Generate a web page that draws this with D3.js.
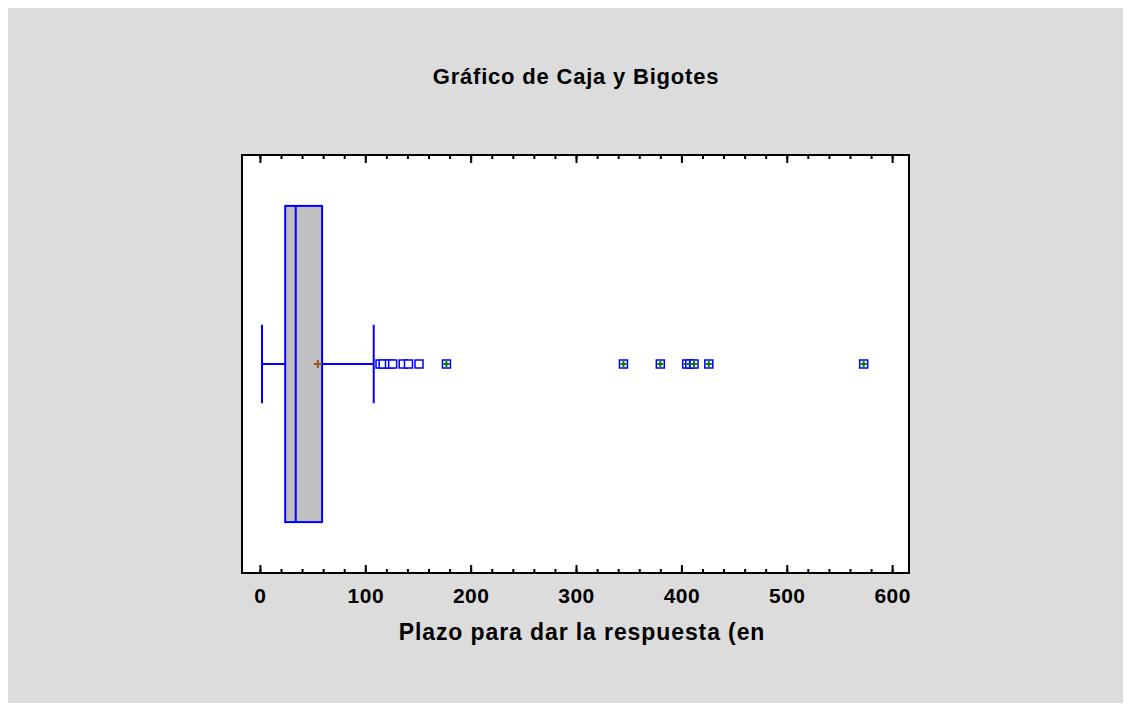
<!DOCTYPE html>
<html>
<head>
<meta charset="utf-8">
<script src="https://cdn.jsdelivr.net/npm/d3@7"></script>
<style>
  body { margin: 0; background: #ffffff; }
  text { font-family: "Liberation Sans", Arial, sans-serif; font-weight: bold; fill: #000; }
</style>
</head>
<body>
<div id="chart"></div>
<script>
// chart data
const title = "Gráfico de Caja y Bigotes";
const axisLabel = "Plazo para dar la respuesta (en";
const boxStats = [2, 24, 34, 59, 108]; // lower whisker, Q1, median, Q3, upper whisker
const meanValue = [55];
const outliers = [114, 117, 123, 126, 136, 141, 151];
const farOutliers = [177, 345, 380, 405, 408, 412, 426, 573];
const xTicks = [0, 100, 200, 300, 400, 500, 600];
const xMinorTicks = d3.range(0, 601, 20);

const W = 1131, H = 711;
const plot = { left: 242, right: 909, top: 155, bottom: 573 };

const svg = d3.select("#chart")
  .append("svg")
  .attr("width", W)
  .attr("height", H);

// grey panel
svg.append("rect")
  .attr("x", 8).attr("y", 8)
  .attr("width", W - 16).attr("height", H - 16)
  .attr("fill", "#dcdcdc");

// plot area
svg.append("rect")
  .attr("x", plot.left).attr("y", plot.top)
  .attr("width", plot.right - plot.left).attr("height", plot.bottom - plot.top)
  .attr("fill", "#ffffff");

const x = d3.scaleLinear()
  .domain([-17, 616])
  .range([plot.left, plot.right]);

const y = d3.scaleBand()
  .domain([axisLabel])
  .range([plot.top, plot.bottom])
  .paddingInner(0).paddingOuter(0.161);

const yc = y(axisLabel) + y.bandwidth() / 2;
const boxH = y.bandwidth();
const capHalf = boxH * 0.124;

// axes: major ticks with labels
const bottomAxis = svg.append("g")
  .attr("transform", `translate(0,${plot.bottom})`)
  .call(d3.axisBottom(x).tickValues(xTicks).tickSizeInner(-8).tickSizeOuter(0).tickPadding(15));
bottomAxis.selectAll("text")
  .attr("font-size", 21)
  .style("font-family", "'Liberation Sans', Arial, sans-serif")
  .style("font-weight", "bold")
  .style("letter-spacing", "0.5px");

svg.append("g")
  .attr("transform", `translate(0,${plot.bottom})`)
  .call(d3.axisBottom(x).tickValues(xMinorTicks).tickSizeInner(-4).tickSizeOuter(0).tickFormat(""));

svg.append("g")
  .attr("transform", `translate(0,${plot.top})`)
  .call(d3.axisTop(x).tickValues(xTicks).tickSizeInner(-8).tickSizeOuter(0).tickFormat(""));

svg.append("g")
  .attr("transform", `translate(0,${plot.top})`)
  .call(d3.axisTop(x).tickValues(xMinorTicks).tickSizeInner(-4).tickSizeOuter(0).tickFormat(""));

svg.selectAll(".domain").remove();
svg.selectAll(".tick line").attr("stroke", "#000").attr("stroke-width", 2);

// frame
svg.append("rect")
  .attr("x", plot.left).attr("y", plot.top)
  .attr("width", plot.right - plot.left).attr("height", plot.bottom - plot.top)
  .attr("fill", "none")
  .attr("stroke", "#000")
  .attr("stroke-width", 2);

const blue = "#0000ff";
const g = svg.append("g");

// whiskers
g.append("line")
  .attr("x1", x(boxStats[0])).attr("x2", x(boxStats[1]))
  .attr("y1", yc).attr("y2", yc)
  .attr("stroke", blue).attr("stroke-width", 2);
g.append("line")
  .attr("x1", x(boxStats[3])).attr("x2", x(boxStats[4]))
  .attr("y1", yc).attr("y2", yc)
  .attr("stroke", blue).attr("stroke-width", 2);
g.selectAll(".cap")
  .data([boxStats[0], boxStats[4]])
  .enter().append("line")
  .attr("class", "cap")
  .attr("x1", d => x(d)).attr("x2", d => x(d))
  .attr("y1", yc - capHalf).attr("y2", yc + capHalf)
  .attr("stroke", blue).attr("stroke-width", 2);

// box
g.append("rect")
  .attr("x", x(boxStats[1])).attr("y", y(axisLabel))
  .attr("width", x(boxStats[3]) - x(boxStats[1]))
  .attr("height", boxH)
  .attr("fill", "#c0c0c0")
  .attr("stroke", blue).attr("stroke-width", 2);

// median
g.append("line")
  .attr("x1", x(boxStats[2])).attr("x2", x(boxStats[2]))
  .attr("y1", y(axisLabel)).attr("y2", y(axisLabel) + boxH)
  .attr("stroke", blue).attr("stroke-width", 2);

// mean
g.selectAll(".mean")
  .data(meanValue)
  .enter().append("path")
  .attr("class", "mean")
  .attr("d", d => `M${x(d) - 4},${yc}H${x(d) + 4}M${x(d)},${yc - 4}V${yc + 4}`)
  .attr("stroke", "#a0521e").attr("stroke-width", 2);

// outliers
g.selectAll(".out")
  .data(outliers)
  .enter().append("rect")
  .attr("class", "out")
  .attr("x", d => x(d) - 4).attr("y", yc - 4)
  .attr("width", 8).attr("height", 8)
  .attr("fill", "#ffffff")
  .attr("stroke", blue).attr("stroke-width", 1.5);

// far outliers
const far = g.selectAll(".far")
  .data(farOutliers)
  .enter().append("g")
  .attr("class", "far");
far.append("rect")
  .attr("x", d => x(d) - 4).attr("y", yc - 4)
  .attr("width", 8).attr("height", 8)
  .attr("fill", "#ffffff")
  .attr("stroke", blue).attr("stroke-width", 1.5);
far.append("path")
  .attr("d", d => `M${x(d) - 3},${yc}H${x(d) + 3}M${x(d)},${yc - 3}V${yc + 3}`)
  .attr("stroke", "#008000").attr("stroke-width", 2);

// title
svg.append("text")
  .attr("x", 576).attr("y", 84)
  .attr("text-anchor", "middle")
  .attr("font-size", 22)
  .style("letter-spacing", "0.8px")
  .text(title);

// axis label
svg.append("text")
  .attr("x", 582).attr("y", 640)
  .attr("text-anchor", "middle")
  .attr("font-size", 23)
  .style("letter-spacing", "0.9px")
  .text(axisLabel);
</script>
</body>
</html>
